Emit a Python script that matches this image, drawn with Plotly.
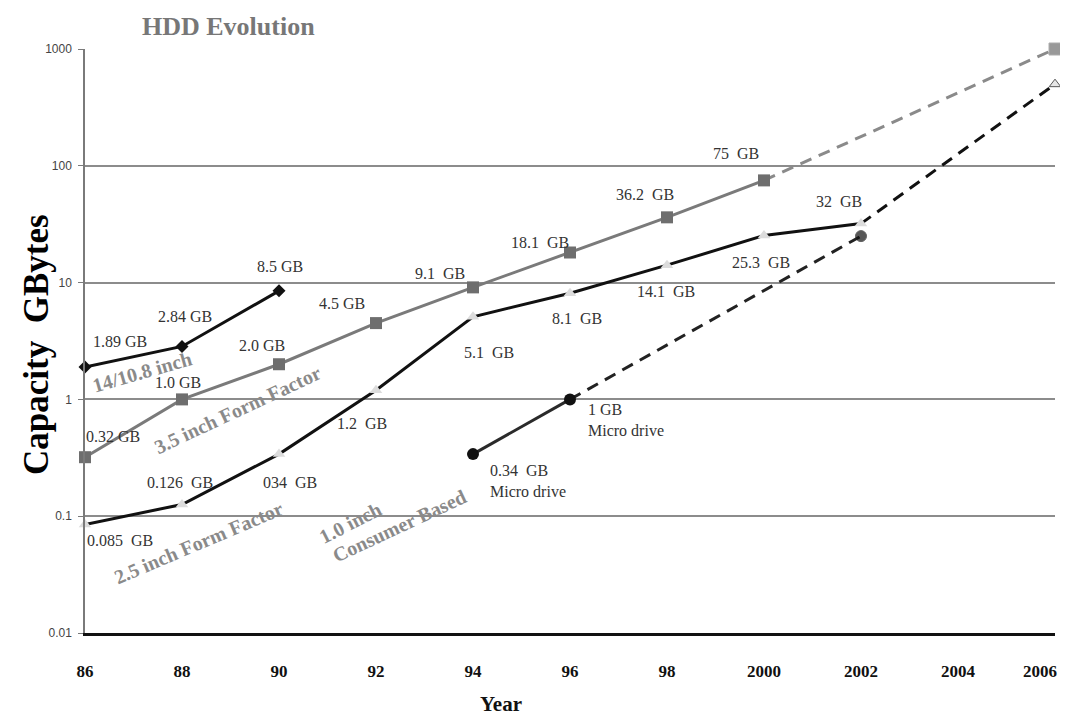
import numpy as np
import plotly.graph_objects as go

# ---------------- data ----------------
years_14 = [1986, 1988, 1990]
cap_14 = [1.89, 2.84, 8.5]
labels_14 = ["1.89 GB", "2.84 GB", "8.5 GB"]

years_35 = [1986, 1988, 1990, 1992, 1994, 1996, 1998, 2000]
cap_35 = [0.32, 1.0, 2.0, 4.5, 9.1, 18.1, 36.2, 75]
labels_35 = ["0.32 GB", "1.0 GB", "2.0 GB", "4.5 GB", "9.1  GB", "18.1  GB", "36.2  GB", "75  GB"]
proj_year_35 = 2006
proj_cap_35 = 1000

years_25 = [1986, 1988, 1990, 1992, 1994, 1996, 1998, 2000, 2002]
cap_25 = [0.085, 0.126, 0.34, 1.2, 5.1, 8.1, 14.1, 25.3, 32]
labels_25 = ["0.085  GB", "0.126  GB", "034  GB", "1.2  GB", "5.1  GB", "8.1  GB", "14.1  GB", "25.3  GB", "32  GB"]
proj_year_25 = 2006
proj_cap_25 = 500

years_micro = [1994, 1996]
cap_micro = [0.34, 1.0]
labels_micro = ["0.34  GB<br>Micro drive", "1 GB<br>Micro drive"]
proj_year_micro = 2002
proj_cap_micro = 25

x_ticks = [1986, 1988, 1990, 1992, 1994, 1996, 1998, 2000, 2002, 2004]
x_tick_text = ["86", "88", "90", "92", "94", "96", "98", "2000", "2002", "2004"]
last_tick_text = "2006"
y_ticks = [0.01, 0.1, 1, 10, 100, 1000]
y_tick_text = ["0.01", "0.1", "1", "10", "100", "1000"]

# ---------------- layout geometry ----------------
PAGE_OFF = 8                      # default body margin of the html page
W, H = 1068 - PAGE_OFF, 718 - PAGE_OFF
PL, PR, PT, PB = 85, 1055, 49, 633   # plot area in page pixels
ML, MT = PL - PAGE_OFF, PT - PAGE_OFF
MR, MB = W - (PR - PAGE_OFF), H - (PB - PAGE_OFF)
PW, PH = PR - PL, PB - PT

def px(xp):
    return (xp - PL) / PW

def py(yp):
    return (PB - yp) / PH

SERIF = "Liberation Serif, Times New Roman, serif"
SANS = "Liberation Sans, Arial, sans-serif"

fig = go.Figure()

# 3.5 inch projection (dashed gray)
fig.add_trace(go.Scatter(
    x=[years_35[-1], proj_year_35], y=[cap_35[-1], proj_cap_35], mode="lines+markers",
    line=dict(color="#8a8a8a", width=3, dash="12px,8px"),
    marker=dict(symbol="square", size=[0, 12], color="#6e6e6e"),
    cliponaxis=False, hoverinfo="skip"))
# 2.5 inch projection (dashed black)
fig.add_trace(go.Scatter(
    x=[years_25[-1], proj_year_25], y=[cap_25[-1], proj_cap_25], mode="lines+markers",
    line=dict(color="#111111", width=3, dash="12px,8px"),
    marker=dict(symbol="triangle-up", size=[0, 10], color="#dcdcdc"),
    cliponaxis=False, hoverinfo="skip"))
# Microdrive projection (dashed black)
fig.add_trace(go.Scatter(
    x=[years_micro[-1], proj_year_micro], y=[cap_micro[-1], proj_cap_micro], mode="lines+markers",
    line=dict(color="#222222", width=3, dash="12px,8px"),
    marker=dict(symbol="circle", size=[0, 11], color="#111111"),
    cliponaxis=False, hoverinfo="skip"))

# 3.5 inch
fig.add_trace(go.Scatter(
    x=years_35, y=cap_35, mode="lines+markers",
    line=dict(color="#7a7a7a", width=3),
    marker=dict(symbol="square", size=12, color="#6e6e6e"),
    cliponaxis=False))
# 2.5 inch
fig.add_trace(go.Scatter(
    x=years_25, y=cap_25, mode="lines+markers",
    line=dict(color="#111111", width=3),
    marker=dict(symbol="triangle-up", size=11, color="#dcdcdc"),
    cliponaxis=False))
# 14/10.8 inch
fig.add_trace(go.Scatter(
    x=years_14, y=cap_14, mode="lines+markers",
    line=dict(color="#111111", width=3),
    marker=dict(symbol="diamond", size=10, color="#111111"),
    cliponaxis=False))
# Micro drive
fig.add_trace(go.Scatter(
    x=years_micro, y=cap_micro, mode="lines+markers",
    line=dict(color="#2a2a2a", width=3),
    marker=dict(symbol="circle", size=12, color="#111111"),
    cliponaxis=False))

annotations = []
lab_font = dict(family=SERIF, size=16, color="#333333")

def add_labels(xs, ys, texts, shifts, **kw):
    for x, y, t, (dx, dy) in zip(xs, ys, texts, shifts):
        annotations.append(dict(
            x=x, y=np.log10(y), xref="x", yref="y", text=t.replace("  ", "\u00a0\u00a0"),
            showarrow=False, xshift=dx, yshift=dy, font=lab_font, **kw))

add_labels(years_14, cap_14, labels_14, [(35, 26), (3, 30), (1, 24)])
add_labels(years_35, cap_35, labels_35,
           [(28, 21), (-4, 17), (-17, 19), (-34, 20), (-33, 14), (-30, 10), (-22, 23), (-28, 27)])
add_labels(years_25, cap_25, labels_25,
           [(35, -16), (-2, 22), (11, -28), (-14, -33), (16, -36), (7, -25), (-1, -26), (-3, -27), (-22, 22)])
add_labels(years_micro, cap_micro, labels_micro, [(15, -6), (16, 0)],
           xanchor="left", yanchor="top", align="left")

# rotated category labels
rot_font = dict(family=SERIF, size=20, color="#8a8a8a", weight="bold")
for text, cx, cy, ang in [
    ("14/10.8 inch", 142, 372, -16),
    ("3.5 inch Form Factor", 237, 410, -25),
    ("2.5 inch Form Factor", 198, 543, -23),
    ("1.0 inch", 350, 523, -27),
    ("Consumer Based", 399, 526, -25),
]:
    annotations.append(dict(x=px(cx), y=py(cy), xref="paper", yref="paper", text=text,
                            showarrow=False, textangle=ang, font=rot_font,
                            xanchor="center", yanchor="middle"))

tick_font = dict(family=SERIF, size=17, color="#111111", weight="bold")
# last x tick label (the reference draws it pulled in from the right edge)
annotations.append(dict(x=px(1040), y=py(671), xref="paper", yref="paper", text=last_tick_text,
                        showarrow=False, font=tick_font, xanchor="center", yanchor="middle"))

# title, axis titles
annotations.append(dict(x=px(228), y=py(27), xref="paper", yref="paper", text="HDD Evolution",
                        showarrow=False, font=dict(family=SERIF, size=26, color="#777777", weight="bold"),
                        xanchor="center", yanchor="middle"))
annotations.append(dict(x=px(501), y=py(704), xref="paper", yref="paper", text="Year",
                        showarrow=False, font=dict(family=SERIF, size=21, color="#111111", weight="bold"),
                        xanchor="center", yanchor="middle"))
annotations.append(dict(x=px(36), y=py(345), xref="paper", yref="paper", text="Capacity\u00a0\u00a0GBytes",
                        showarrow=False, textangle=-90,
                        font=dict(family=SERIF, size=35, color="#000000", weight="bold"),
                        xanchor="center", yanchor="middle"))

fig.update_layout(
    width=W, height=H,
    margin=dict(l=ML, r=MR, t=MT, b=MB, pad=0),
    paper_bgcolor="white", plot_bgcolor="white",
    showlegend=False,
    annotations=annotations,
    xaxis=dict(
        range=[1986, 2006], tickmode="array", tickvals=x_ticks, ticktext=x_tick_text,
        showgrid=False, zeroline=False, showline=True, linecolor="#111111", linewidth=2.5,
        ticks="", ticklabelstandoff=21,
        tickfont=tick_font,
    ),
    yaxis=dict(
        type="log", range=[-2, 3], tickmode="array", tickvals=y_ticks, ticktext=y_tick_text,
        showgrid=True, gridcolor="#8c8c8c", gridwidth=1.5, zeroline=False,
        showline=True, linecolor="#7a7a7a", linewidth=1.5,
        ticks="outside", ticklen=5, tickcolor="#7a7a7a", ticklabelstandoff=4,
        tickfont=dict(family=SANS, size=12, color="#444444"),
    ),
)

fig.write_html("out.html")
